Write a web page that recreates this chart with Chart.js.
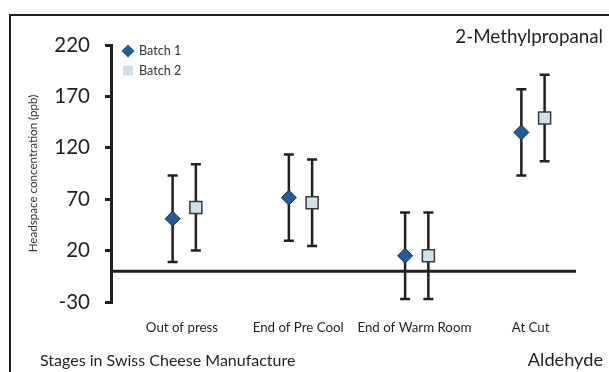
<!DOCTYPE html>
<html>
<head>
<meta charset="utf-8">
<script src="https://cdn.jsdelivr.net/npm/chart.js@4/dist/chart.umd.min.js"></script>
<style>
  html, body { margin: 0; padding: 0; background: #fff; }
  #wrap { width: 609px; height: 372px; position: relative; }
</style>
</head>
<body>
<div id="wrap"><canvas id="c" width="609" height="372"></canvas></div>
<script>
// Stages sampled during manufacture
const categories = ['Out of press', 'End of Pre Cool', 'End of Warm Room', 'At Cut'];
// Mean headspace concentration (ppb) and error (+/-) per batch
const batch1 = [51, 71.5, 15, 135];
const batch1Err = [42, 42, 42, 42];
const batch2 = [62, 66.5, 15, 149];
const batch2Err = [42, 42, 42, 42];
const yTicks = [-30, 20, 70, 120, 170, 220];

const FONT = 'Lato, "Open Sans", sans-serif';
const INK = '#231f20';

// horizontal placement of each batch inside its stage slot
const B1_SHIFT = 0.03, B2_SHIFT = 0.23, LABEL_SHIFT = 0.11;

const pts = (vals, shift) => vals.map((v, i) => ({ x: i + 1 + shift, y: v }));

const errorBars = {
  id: 'errorBars',
  beforeDatasetsDraw(chart) {
    const { ctx, chartArea, scales: { x, y } } = chart;
    ctx.save();
    // zero reference line
    ctx.strokeStyle = INK;
    ctx.lineWidth = 3;
    const y0 = y.getPixelForValue(0);
    ctx.beginPath();
    ctx.moveTo(chartArea.left, y0);
    ctx.lineTo(chartArea.right, y0);
    ctx.stroke();
    // error whiskers
    ctx.lineWidth = 2.5;
    chart.data.datasets.forEach(ds => {
      ds.data.forEach((p, i) => {
        const e = ds.errors[i];
        const px = x.getPixelForValue(p.x);
        const top = y.getPixelForValue(p.y + e);
        const bot = y.getPixelForValue(p.y - e);
        ctx.beginPath();
        ctx.moveTo(px, top); ctx.lineTo(px, bot);
        ctx.moveTo(px - 5, top); ctx.lineTo(px + 5, top);
        ctx.moveTo(px - 5, bot); ctx.lineTo(px + 5, bot);
        ctx.stroke();
      });
    });
    ctx.restore();
  },
  afterDraw(chart) {
    const { ctx } = chart;
    ctx.save();
    // outer frame
    ctx.strokeStyle = INK;
    ctx.lineWidth = 2;
    ctx.beginPath();
    ctx.moveTo(10, 400);
    ctx.lineTo(10, 15);
    ctx.lineTo(640, 15);
    ctx.stroke();
    // legend
    const items = chart.data.datasets;
    items.forEach((ds, i) => {
      const cy = 51 + i * 19.5;
      ctx.fillStyle = ds.legendFill;
      ctx.strokeStyle = ds.legendFill;
      ctx.lineWidth = 1;
      ctx.beginPath();
      if (ds.pointStyle === 'rectRot') {
        ctx.moveTo(128, cy - 6.5); ctx.lineTo(134.5, cy);
        ctx.lineTo(128, cy + 6.5); ctx.lineTo(121.5, cy);
        ctx.closePath();
      } else {
        ctx.rect(123, cy - 5, 10, 10);
      }
      ctx.fill();
      ctx.fillStyle = '#333';
      ctx.font = '12.6px ' + FONT;
      ctx.textAlign = 'left';
      ctx.textBaseline = 'middle';
      ctx.fillText(ds.label, 139, cy);
    });
    // titles
    ctx.fillStyle = INK;
    ctx.textAlign = 'right';
    ctx.textBaseline = 'middle';
    ctx.font = '18.8px ' + FONT;
    ctx.fillText('2-Methylpropanal', 603, 37);
    ctx.font = '18.2px ' + FONT;
    ctx.fillText('Aldehyde', 603, 360);
    ctx.textAlign = 'left';
    ctx.font = '16px ' + FONT;
    ctx.fillText('Stages in Swiss Cheese Manufacture', 40, 361);
    ctx.restore();
  }
};

new Chart(document.getElementById('c'), {
  type: 'scatter',
  data: {
    datasets: [
      {
        label: 'Batch 1',
        data: pts(batch1, B1_SHIFT),
        errors: batch1Err,
        pointStyle: 'rectRot',
        pointRadius: 7.5,
        pointHoverRadius: 7.5,
        backgroundColor: '#1d5d9b',
        borderColor: '#1b2b3c',
        borderWidth: 1,
        legendFill: '#1d5d9b'
      },
      {
        label: 'Batch 2',
        data: pts(batch2, B2_SHIFT),
        errors: batch2Err,
        pointStyle: 'rect',
        pointRadius: 8.5,
        pointHoverRadius: 8.5,
        backgroundColor: '#d0e1ea',
        borderColor: '#3a3a3a',
        borderWidth: 1.5,
        legendFill: '#cfe0ea'
      }
    ]
  },
  options: {
    responsive: false,
    animation: false,
    events: [],
    layout: { padding: { left: 0, top: 45, right: 33, bottom: 0 } },
    plugins: { legend: { display: false }, tooltip: { enabled: false } },
    scales: {
      x: {
        type: 'linear',
        min: 0.5,
        max: 4.5,
        afterBuildTicks(scale) {
          scale.ticks = categories.map((c, i) => ({ value: i + 1 + LABEL_SHIFT }));
        },
        afterFit(scale) { scale.height = 70; },
        grid: { display: false, drawTicks: false },
        border: { display: false },
        ticks: {
          autoSkip: false,
          maxRotation: 0,
          padding: 18,
          color: INK,
          font: { family: FONT, size: 13.3 },
          callback: (v, i) => categories[i]
        }
      },
      y: {
        min: -30,
        max: 220,
        afterBuildTicks(scale) {
          scale.ticks = yTicks.map(v => ({ value: v }));
        },
        afterFit(scale) { scale.width = 111; },
        grid: {
          display: true,
          drawOnChartArea: false,
          drawTicks: true,
          tickLength: 6,
          color: INK,
          lineWidth: 3
        },
        border: { display: true, color: INK, width: 3 },
        ticks: {
          padding: 15,
          color: INK,
          font: { family: FONT, size: 20.5 }
        },
        title: {
          display: true,
          text: 'Headspace concentration (ppb)',
          color: '#333',
          font: { family: FONT, size: 11.6 },
          padding: { top: 26, bottom: 0 }
        }
      }
    }
  },
  plugins: [errorBars]
});
</script>
</body>
</html>
